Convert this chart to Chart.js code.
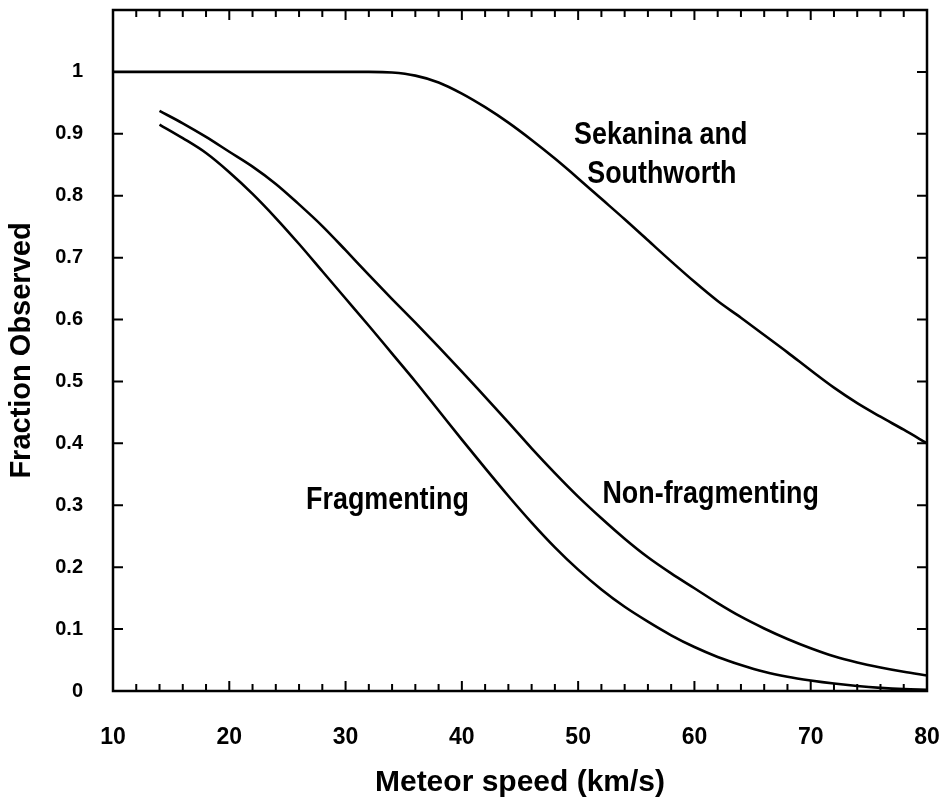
<!DOCTYPE html>
<html><head><meta charset="utf-8">
<script src="https://cdn.jsdelivr.net/npm/chart.js@4.4.1/dist/chart.umd.min.js"></script>
<style>html,body{margin:0;padding:0;background:#fff}#wrap{width:944px;height:802px}</style>
</head><body><div id="wrap"><canvas id="c" width="944" height="802"></canvas></div>
<script>
// ---- data ----
const sekSpeeds = [10,12,14,16,18,20,22,24,26,28,30,32,34,36,38,40,42,44,46,48,50,52,54,56,58,60,62,64,66,68,70,72,74,76,78,80];
const sekanina  = [1,1,1,1,1,1,1,1,1,1,1,1,0.999,0.994,0.983,0.965,0.943,0.918,0.890,0.860,0.828,0.795,0.762,0.728,0.694,0.661,0.630,0.603,0.575,0.547,0.518,0.490,0.465,0.443,0.422,0.400];
const modelSpeeds = [14,16,18,20,22,24,26,28,30,32,34,36,38,40,42,44,46,48,50,52,54,56,58,60,62,64,66,68,70,72,74,76,78,80];
const nonFragmenting = [0.937,0.917,0.895,0.871,0.847,0.819,0.786,0.751,0.712,0.672,0.633,0.595,0.556,0.516,0.475,0.434,0.392,0.352,0.314,0.279,0.246,0.216,0.190,0.166,0.142,0.120,0.101,0.084,0.069,0.056,0.046,0.038,0.031,0.025];
const fragmenting = [0.915,0.893,0.869,0.838,0.803,0.764,0.722,0.678,0.634,0.590,0.545,0.500,0.453,0.406,0.360,0.315,0.272,0.232,0.196,0.164,0.136,0.112,0.090,0.071,0.055,0.042,0.031,0.023,0.017,0.012,0.008,0.005,0.003,0.002];
const xTickLabels = [10,20,30,40,50,60,70,80];
const yTickLabels = [0,0.1,0.2,0.3,0.4,0.5,0.6,0.7,0.8,0.9,1];
const curveLabels = [
  {text:'Sekanina and', x:57.1, y:0.898},
  {text:'Southworth', x:57.2, y:0.835},
  {text:'Fragmenting', x:33.6, y:0.308},
  {text:'Non-fragmenting', x:61.4, y:0.318}
];

const SANS = "'Liberation Sans', Arial, sans-serif";

const pts = (xs, ys) => xs.map((x, i) => ({x, y: ys[i]}));
const lineStyle = {borderColor:'#000', borderWidth:2.6, pointRadius:0, fill:false, cubicInterpolationMode:'monotone'};
const noPad = (s) => { s.paddingLeft = 0; s.paddingRight = 0; s.paddingTop = 0; s.paddingBottom = 0; };

const framePlugin = {
  id:'frame',
  afterDatasetsDraw(chart) {
    const {ctx, chartArea:a, scales:{x, y}} = chart;
    ctx.save();
    ctx.strokeStyle = '#000';
    ctx.lineWidth = 2;
    ctx.beginPath();
    for (let v = 10; v <= 80; v += 2) {
      const px = x.getPixelForValue(v);
      const len = (v % 10 === 0) ? 10 : 7;
      ctx.moveTo(px, a.bottom); ctx.lineTo(px, a.bottom - len);
      ctx.moveTo(px, a.top); ctx.lineTo(px, a.top + len);
    }
    for (let i = 0; i <= 11; i++) {
      const py = y.getPixelForValue(i / 10);
      ctx.moveTo(a.left, py); ctx.lineTo(a.left + 10, py);
      ctx.moveTo(a.right, py); ctx.lineTo(a.right - 10, py);
    }
    ctx.stroke();
    ctx.lineWidth = 2.5;
    ctx.strokeRect(a.left, a.top, a.right - a.left, a.bottom - a.top);
    ctx.fillStyle = '#000';
    ctx.font = "bold 32px " + SANS;
    ctx.textAlign = 'center';
    ctx.textBaseline = 'middle';
    curveLabels.forEach(l => {
      ctx.save();
      ctx.translate(x.getPixelForValue(l.x), y.getPixelForValue(l.y));
      ctx.scale(0.84, 1);
      ctx.fillText(l.text, 0, 0);
      ctx.restore();
    });
    ctx.restore();
  }
};

new Chart(document.getElementById('c'), {
  type:'line',
  data:{
    datasets:[
      Object.assign({label:'Sekanina and Southworth', data:pts(sekSpeeds, sekanina)}, lineStyle),
      Object.assign({label:'Non-fragmenting', data:pts(modelSpeeds, nonFragmenting)}, lineStyle),
      Object.assign({label:'Fragmenting', data:pts(modelSpeeds, fragmenting)}, lineStyle)
    ]
  },
  options:{
    responsive:false,
    animation:false,
    layout:{autoPadding:false, padding:{top:10, right:17, bottom:0, left:0}},
    plugins:{legend:{display:false}, tooltip:{enabled:false}},
    scales:{
      x:{
        type:'linear', min:10, max:80,
        afterBuildTicks(s){ s.ticks = xTickLabels.map(v => ({value:v})); },
        afterFit(s){ s.height = 111; noPad(s); },
        grid:{display:false, drawTicks:false},
        border:{display:false},
        ticks:{color:'#000', padding:33, maxRotation:0, font:{family:SANS, size:23, weight:'bold'}},
        title:{display:true, text:'Meteor speed (km/s)', color:'#000', padding:{top:0,bottom:1}, font:{family:SANS, size:30, weight:'bold'}}
      },
      y:{
        type:'linear', min:0, max:1.1,
        afterBuildTicks(s){ s.ticks = yTickLabels.map(v => ({value:v})); },
        afterFit(s){ s.width = 113; noPad(s); },
        grid:{display:false, drawTicks:false},
        border:{display:false},
        ticks:{color:'#000', padding:30, font:{family:SANS, size:20, weight:'bold'}, callback:(v) => String(Math.round(v*10)/10)},
        title:{display:true, text:'Fraction Observed', color:'#000', padding:{top:5,bottom:0}, font:{family:SANS, size:29, weight:'bold'}}
      }
    }
  },
  plugins:[framePlugin]
});
</script></body></html>
